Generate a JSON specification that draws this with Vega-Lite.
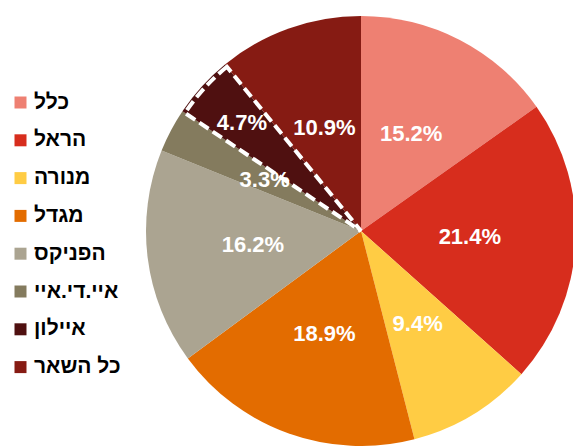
{
  "$schema": "https://vega.github.io/schema/vega-lite/v6.json",
  "autosize": "none",
  "width": 422,
  "height": 430,
  "padding": {"left": 150, "top": 16, "right": 1, "bottom": 0},
  "background": "white",
  "config": {"view": {"stroke": null}, "font": "Liberation Sans"},
  "data": {
    "values": [
      {"company": "כלל", "legend": " כלל", "share": 15.2, "label": "15.2%", "order": 1},
      {"company": "הראל", "legend": "הראל", "share": 21.4, "label": "21.4%", "order": 2},
      {"company": "מנורה", "legend": "מנורה", "share": 9.4, "label": "9.4%", "order": 3},
      {"company": "מגדל", "legend": "מגדל", "share": 18.9, "label": "18.9%", "order": 4},
      {"company": "הפניקס", "legend": "הפניקס", "share": 16.2, "label": "16.2%", "order": 5},
      {"company": "איי.די.איי", "legend": "איי.די.איי", "share": 3.3, "label": "3.3%", "order": 6},
      {"company": "איילון", "legend": "איילון", "share": 4.7, "label": "4.7%", "order": 7},
      {"company": "כל השאר", "legend": "כל השאר", "share": 10.9, "label": "10.9%", "order": 8}
    ]
  },
  "encoding": {
    "theta": {"field": "share", "type": "quantitative", "stack": true},
    "order": {"field": "order", "type": "quantitative"}
  },
  "layer": [
    {
      "mark": {"type": "arc", "outerRadius": 215},
      "encoding": {
        "color": {
          "field": "legend",
          "type": "nominal",
          "sort": null,
          "scale": {
            "domain": [" כלל", "הראל", "מנורה", "מגדל", "הפניקס", "איי.די.איי", "איילון", "כל השאר"],
            "range": ["#EE8072", "#D72D1D", "#FFCC44", "#E36C00", "#ABA491", "#847B5E", "#4F1010", "#861B13"]
          },
          "legend": {
            "title": null,
            "orient": "none",
            "legendX": -140,
            "legendY": 76,
            "symbolType": "square",
            "symbolSize": 144,
            "symbolStrokeWidth": 0,
            "labelFontSize": 21,
            "labelFontWeight": "bold",
            "labelColor": "black",
            "labelFont": "Liberation Sans",
            "labelOffset": 3,
            "rowPadding": 15.8,
            "labelLimit": 200
          }
        }
      }
    },
    {
      "mark": {"type": "arc", "outerRadius": 212, "fill": "transparent", "strokeWidth": 4, "strokeDash": [11, 5]},
      "encoding": {
        "stroke": {
          "condition": {"test": "datum.company === 'איילון'", "value": "white"},
          "value": null
        }
      }
    },
    {
      "mark": {"type": "text", "radius": 109, "fontSize": 22, "fontWeight": "bold", "fill": "white", "font": "Liberation Sans"},
      "encoding": {
        "text": {"field": "label", "type": "nominal"},
        "opacity": {
          "condition": {"test": "datum.company === 'איילון'", "value": 0},
          "value": 1
        }
      }
    },
    {
      "mark": {"type": "text", "radius": 161, "fontSize": 22, "fontWeight": "bold", "fill": "white", "font": "Liberation Sans"},
      "encoding": {
        "text": {"field": "label", "type": "nominal"},
        "opacity": {
          "condition": {"test": "datum.company === 'איילון'", "value": 1},
          "value": 0
        }
      }
    }
  ]
}
